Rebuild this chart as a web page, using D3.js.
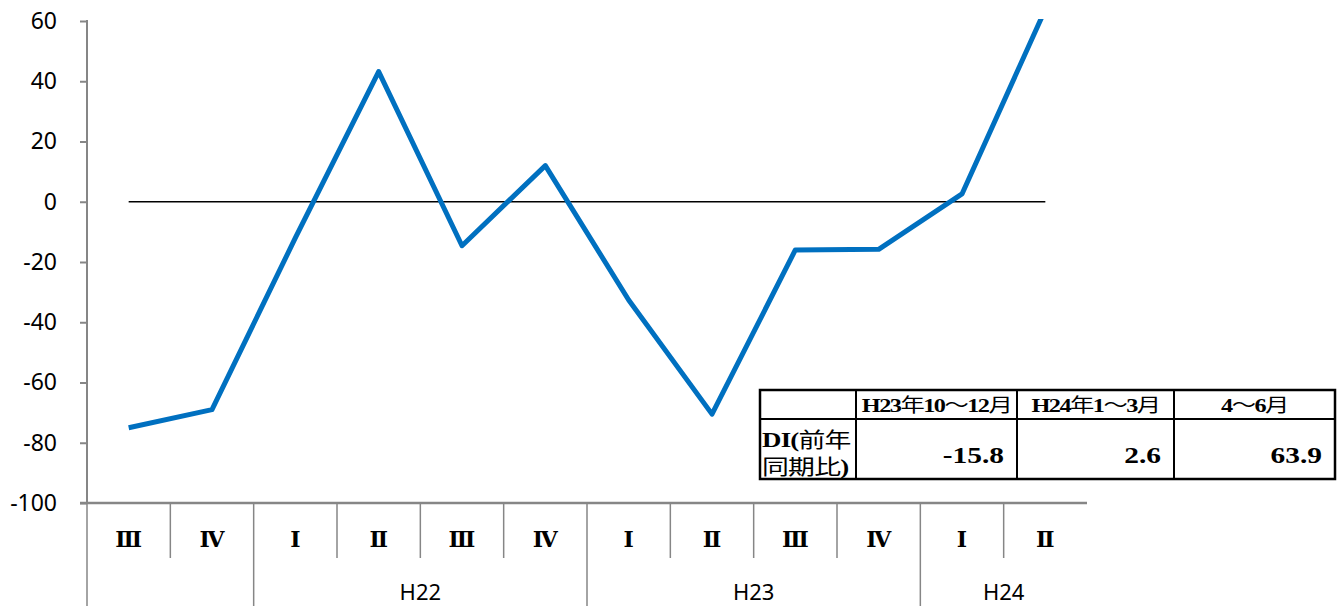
<!DOCTYPE html>
<html>
<head>
<meta charset="utf-8">
<script src="https://cdn.jsdelivr.net/npm/d3@7"></script>
<style>
  html, body { margin: 0; padding: 0; background: #fff; }
  svg { display: block; }
</style>
</head>
<body>
<svg id="chart" width="1342" height="606"></svg>
<script>
// Quarterly DI (year-on-year), H21 Q3 through H24 Q2
const quarters = ["Ⅲ", "Ⅳ", "Ⅰ", "Ⅱ", "Ⅲ", "Ⅳ", "Ⅰ", "Ⅱ", "Ⅲ", "Ⅳ", "Ⅰ", "Ⅱ"];
const years = [
  { label: "", start: 0, end: 2 },
  { label: "H22", start: 2, end: 6 },
  { label: "H23", start: 6, end: 10 },
  { label: "H24", start: 10, end: 12 }
];
const diValues = [-75, -69, -12, 43.2, -14.6, 12, -32.6, -70.5, -16, -15.8, 2.6, 63.9];
const zeroLine = [0, 0, 0, 0, 0, 0, 0, 0, 0, 0, 0, 0];
const yTicks = [-100, -80, -60, -40, -20, 0, 20, 40, 60];

// Summary table
const tableHeaders = ["", "H23年10～12月", "H24年1～3月", "4～6月"];
const tableRowLabel = ["DI(前年", "同期比)"];
const tableValues = [-15.8, 2.6, 63.9];

const svg = d3.select("#chart");
const plot = { left: 87, right: 1087, top: 21, bottom: 503 };

const x = d3.scaleBand()
  .domain(d3.range(quarters.length))
  .range([plot.left, plot.right]);
const y = d3.scaleLinear().domain([-100, 60]).range([plot.bottom, plot.top]);
const cx = i => x(i) + x.bandwidth() / 2;

const axisColor = "#868686";
const sansFont = "'Noto Sans', 'DejaVu Sans', sans-serif";
const serifFont = "'Liberation Serif', 'DejaVu Serif', serif";
const cjkFont = "'Noto Sans CJK JP', sans-serif";

// Y axis
const yAxis = svg.append("g")
  .attr("transform", `translate(${plot.left},0)`)
  .call(d3.axisLeft(y).tickValues(yTicks).tickSize(7).tickPadding(23).tickFormat(d3.format("d")));
yAxis.select(".domain").attr("stroke", axisColor).attr("stroke-width", 2)
  .attr("d", `M0,${plot.top - 1}V${plot.bottom}`);
yAxis.selectAll(".tick line").attr("stroke", axisColor).attr("stroke-width", 2);
yAxis.selectAll(".tick text")
  .attr("fill", "#000").attr("font-family", sansFont).attr("font-size", 23)
  .text(d => d < 0 ? "-" + Math.abs(d) : d);

// Category axis: baseline, separators and two tiers of labels
const catAxis = svg.append("g");
catAxis.append("line")
  .attr("x1", plot.left - 7).attr("x2", plot.right)
  .attr("y1", plot.bottom).attr("y2", plot.bottom)
  .attr("stroke", axisColor).attr("stroke-width", 2.5);

const groupEdges = new Set(years.map(g => g.start).concat([0]));
catAxis.selectAll(".sep")
  .data(d3.range(quarters.length))
  .join("line")
  .attr("x1", i => x(i)).attr("x2", i => x(i))
  .attr("y1", plot.bottom)
  .attr("y2", i => groupEdges.has(i) ? 606 : 558)
  .attr("stroke", axisColor).attr("stroke-width", 1.5);

catAxis.selectAll(".q")
  .data(quarters)
  .join("text")
  .attr("x", (d, i) => cx(i))
  .attr("y", 547)
  .attr("text-anchor", "middle")
  .attr("font-family", "'DejaVu Serif', serif")
  .attr("font-weight", "bold")
  .attr("font-size", 22)
  .attr("fill", "#000")
  .text(d => d);

catAxis.selectAll(".yr")
  .data(years.filter(g => g.label))
  .join("text")
  .attr("x", g => (x(g.start) + (g.end < quarters.length ? x(g.end) : plot.right)) / 2)
  .attr("y", 600)
  .attr("text-anchor", "middle")
  .attr("font-family", sansFont)
  .attr("font-size", 22)
  .attr("fill", "#000")
  .text(g => g.label);

// Zero reference series
svg.append("path")
  .datum(zeroLine)
  .attr("fill", "none")
  .attr("stroke", "#000")
  .attr("stroke-width", 1.6)
  .attr("d", d3.line().x((d, i) => cx(i)).y(d => y(d)));

// DI series, clipped to the plotting area
svg.append("clipPath").attr("id", "plot-clip")
  .append("rect")
  .attr("x", plot.left).attr("y", plot.top - 2)
  .attr("width", plot.right - plot.left).attr("height", plot.bottom - plot.top + 2);

svg.append("path")
  .datum(diValues)
  .attr("clip-path", "url(#plot-clip)")
  .attr("fill", "none")
  .attr("stroke", "#0070C0")
  .attr("stroke-width", 5)
  .attr("stroke-linejoin", "round")
  .attr("d", d3.line().x((d, i) => cx(i)).y(d => y(d)));

// Summary table
const table = { left: 760, top: 390, mid: 419, bottom: 479 };
const colEdges = [760, 856, 1017, 1174, 1335];
const stretch = 1.28; // table text is set in a widened face
const tg = svg.append("g");
tg.append("rect")
  .attr("x", table.left).attr("y", table.top)
  .attr("width", colEdges[4] - colEdges[0]).attr("height", table.bottom - table.top)
  .attr("fill", "#fff").attr("stroke", "#000").attr("stroke-width", 2.5);
tg.append("line")
  .attr("x1", table.left).attr("x2", colEdges[4])
  .attr("y1", table.mid).attr("y2", table.mid)
  .attr("stroke", "#000").attr("stroke-width", 2);
tg.selectAll(".col")
  .data(colEdges.slice(1, 4))
  .join("line")
  .attr("x1", d => d).attr("x2", d => d)
  .attr("y1", table.top).attr("y2", table.bottom)
  .attr("stroke", "#000").attr("stroke-width", 2);

// Latin glyphs bold serif, CJK glyphs in a plain gothic face
function mixedText(sel, str, size) {
  const runs = str.match(/[\u3000-\u9fff\uff00-\uffef]+|[^\u3000-\u9fff\uff00-\uffef]+/g) || [];
  runs.forEach(r => {
    const cjk = /[\u3000-\u9fff\uff00-\uffef]/.test(r);
    sel.append("tspan")
      .attr("font-family", cjk ? cjkFont : serifFont)
      .attr("font-weight", cjk ? "normal" : "bold")
      .attr("font-size", size)
      .text(r);
  });
}

tableHeaders.forEach((h, i) => {
  if (!h) return;
  const t = tg.append("text")
    .attr("transform", `translate(${(colEdges[i] + colEdges[i + 1]) / 2},412) scale(${stretch},1)`)
    .attr("text-anchor", "middle")
    .attr("letter-spacing", -1.2)
    .attr("fill", "#000");
  mixedText(t, h, 19);
});

const rowLabel = tg.append("text")
  .attr("transform", `translate(762,447) scale(${stretch},1)`)
  .attr("letter-spacing", -0.6)
  .attr("fill", "#000");
tableRowLabel.forEach((s, i) => {
  const line = rowLabel.append("tspan").attr("x", 0).attr("dy", i === 0 ? 0 : 27);
  mixedText(line, s, 21);
});

tg.selectAll(".val")
  .data(tableValues)
  .join("text")
  .attr("transform", (d, i) => `translate(${colEdges[i + 2] - 13},463) scale(${stretch},1)`)
  .attr("text-anchor", "end")
  .attr("font-family", serifFont)
  .attr("font-weight", "bold")
  .attr("font-size", 23)
  .attr("fill", "#000")
  .text(d => d < 0 ? "-" + Math.abs(d).toFixed(1) : d.toFixed(1));
</script>
</body>
</html>
